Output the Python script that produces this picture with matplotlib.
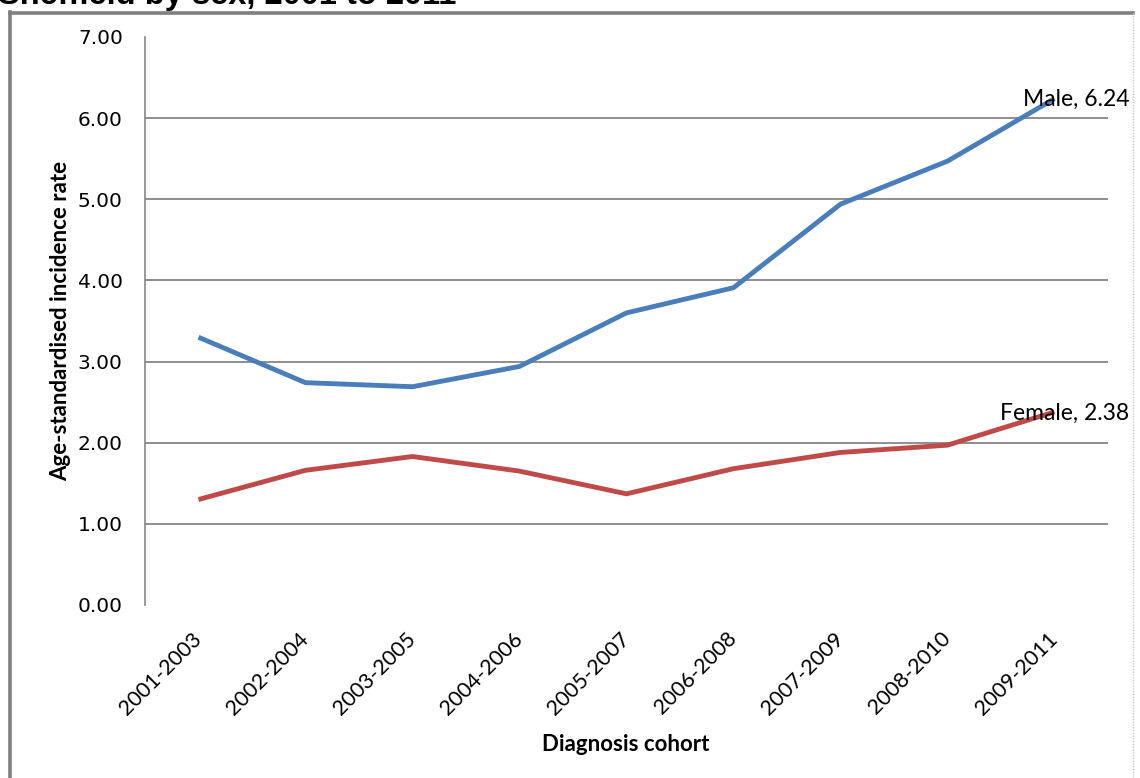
import matplotlib
matplotlib.use('Agg')
import matplotlib.pyplot as plt
from matplotlib.lines import Line2D
import numpy as np

# data
cohorts = ['2001-2003', '2002-2004', '2003-2005', '2004-2006', '2005-2007',
           '2006-2008', '2007-2009', '2008-2010', '2009-2011']
male = [3.30, 2.74, 2.69, 2.94, 3.60, 3.91, 4.94, 5.47, 6.24]
female = [1.30, 1.66, 1.83, 1.65, 1.37, 1.68, 1.88, 1.97, 2.38]
yticks = [0, 1, 2, 3, 4, 5, 6, 7]

W, H = 1140, 778
fig = plt.figure(figsize=(W/100, H/100), dpi=100)
fig.patch.set_facecolor('w')

# plot area in pixels: left 145, right 1108, top 37, bottom 605
ax = fig.add_axes([145/W, 1-605/H, (1108-145)/W, (605-37)/H])

x = np.arange(len(cohorts))
ax.plot(x, male, color='#4A7EBB', lw=3.5, solid_capstyle='butt', zorder=3)
ax.plot(x, female, color='#BE4B48', lw=3.5, solid_capstyle='butt', zorder=3)

ax.set_xlim(-0.5, len(cohorts)-0.5)
ax.set_ylim(0, 7)
ax.set_yticks(yticks)
ax.set_yticklabels(['%.2f' % v for v in yticks], fontsize=14.5, family='DejaVu Sans')
ax.set_xticks(x)
ax.set_xticklabels(cohorts, rotation=45, ha='right', va='center',
                   rotation_mode='anchor', fontsize=15.5, family='Lato')

ax.tick_params(axis='y', length=0, pad=16)
ax.tick_params(axis='x', length=0, pad=22)

for s in ['top', 'right', 'bottom']:
    ax.spines[s].set_visible(False)
ax.spines['left'].set_color('#868686')
ax.spines['left'].set_linewidth(1.2)

ax.grid(axis='y', color='#868686', lw=1.3)
ax.set_axisbelow(True)
gl = ax.yaxis.get_gridlines()
gl[0].set_visible(False)
gl[-1].set_visible(False)

# end labels
ax.annotate('Male, %.2f' % male[-1], xy=(x[-1], male[-1]), xytext=(75, -1),
            textcoords='offset pixels', ha='right', va='center',
            fontsize=16.5, family='Lato', zorder=5)
ax.annotate('Female, %.2f' % female[-1], xy=(x[-1], female[-1]), xytext=(75, -1),
            textcoords='offset pixels', ha='right', va='center',
            fontsize=16.5, family='Lato', zorder=5)

# axis titles
fig.text(626/W, 1-751/H, 'Diagnosis cohort', ha='center', va='baseline',
         fontsize=16, fontweight='bold', family='Lato')
fig.text(61/W, 1-321/H, 'Age-standardised incidence rate', ha='center', va='center',
         rotation=90, fontsize=16, fontweight='bold', family='Lato')

# title, clipped by the top of the image as in the source
fig.text(-2/W, 1-4/H, 'Sheffield by sex, 2001 to 2011', ha='left', va='baseline',
         fontsize=23.5, fontweight='bold', family='Liberation Sans')

# chart border
fig.add_artist(Line2D([9.5/W, 9.5/W], [0, 1-12/H], transform=fig.transFigure,
                      color='#808080', lw=2.6))
fig.add_artist(Line2D([9.5/W, 1133/W], [1-12.5/H, 1-12.5/H], transform=fig.transFigure,
                      color='#808080', lw=2.6))
fig.add_artist(Line2D([1133/W, 1133/W], [0, 1-12/H], transform=fig.transFigure,
                      color='#c8c8c8', lw=1, ls=(0, (1, 1))))

plt.savefig('out.png', dpi=100)
